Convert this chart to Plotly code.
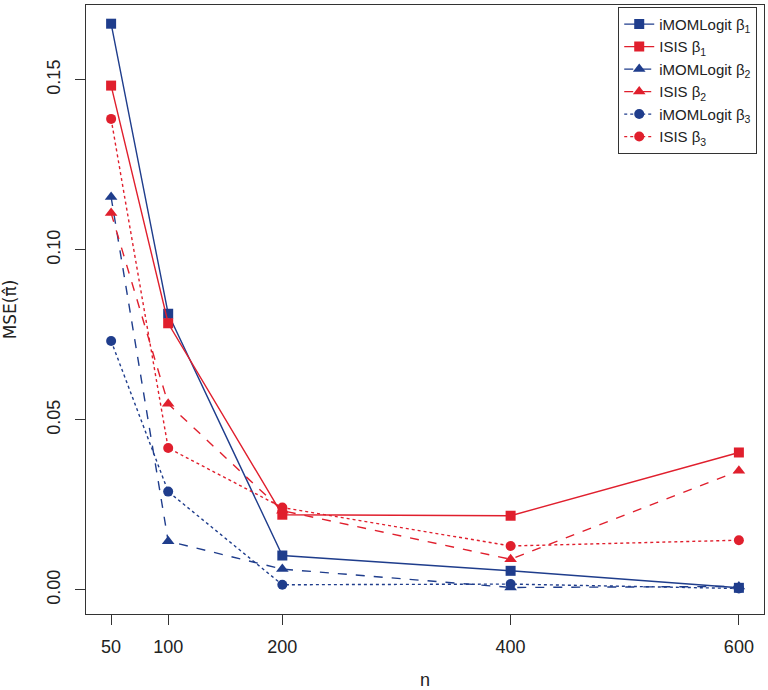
import plotly.graph_objects as go

n_values = [50, 100, 200, 400, 600]
tick_labels = ["50", "100", "200", "400", "600"]

imom_b1 = [0.1665, 0.0812, 0.0101, 0.0056, 0.0006]
isis_b1 = [0.1483, 0.0784, 0.0221, 0.0218, 0.0404]
imom_b2 = [0.1155, 0.0143, 0.0061, 0.0007, 0.0010]
isis_b2 = [0.1108, 0.0547, 0.0233, 0.0090, 0.0350]
imom_b3 = [0.0732, 0.0289, 0.0015, 0.0017, 0.0004]
isis_b3 = [0.1385, 0.0417, 0.0242, 0.0129, 0.0146]

BLUE = "#1f3d8c"
RED = "#e01f2d"

series = [
    ("iMOMLogit β<sub>1</sub>", imom_b1, BLUE, "solid", "square", 10),
    ("ISIS β<sub>1</sub>", isis_b1, RED, "solid", "square", 10),
    ("iMOMLogit β<sub>2</sub>", imom_b2, BLUE, "dash", "triangle-up", 11),
    ("ISIS β<sub>2</sub>", isis_b2, RED, "dash", "triangle-up", 11),
    ("iMOMLogit β<sub>3</sub>", imom_b3, BLUE, "dot", "circle", 10),
    ("ISIS β<sub>3</sub>", isis_b3, RED, "dot", "circle", 10),
]

fig = go.Figure()
for name, vals, col, dash, sym, size in series:
    fig.add_trace(go.Scatter(
        x=n_values, y=vals, name=name, mode="lines+markers",
        line=dict(color=col, width=1.4, dash=dash),
        marker=dict(color=col, symbol=sym, size=size),
    ))

FAM = "Liberation Sans, Arial, sans-serif"
tick_font = dict(family=FAM, size=18, color="#222")
title_font = dict(family=FAM, size=18, color="#222")

fig.update_layout(
    width=768, height=690,
    margin=dict(l=86, r=4, t=5, b=76),
    paper_bgcolor="white", plot_bgcolor="white",
    font=dict(family=FAM, size=15, color="#222"),
    showlegend=True,
    legend=dict(
        x=0.99, y=0.997, xanchor="right", yanchor="top",
        bgcolor="white", bordercolor="#333", borderwidth=1,
        font=dict(family=FAM, size=15, color="#222"),
        tracegroupgap=0, itemwidth=30,
    ),
    xaxis=dict(
        range=[28, 622], tickvals=n_values, ticktext=tick_labels,
        showgrid=False, zeroline=False, showline=True, mirror=True,
        linecolor="#333", linewidth=1, ticks="outside", ticklen=10,
        tickcolor="#333", tickfont=tick_font, automargin=False,
        ticklabelstandoff=6,
        title=dict(text="n", standoff=20, font=title_font),
    ),
    yaxis=dict(
        range=[-0.0071, 0.172], tickvals=[0.0, 0.05, 0.10, 0.15],
        ticktext=["0.00", "0.05", "0.10", "0.15"], tickangle=-90,
        showgrid=False, zeroline=False, showline=True, mirror=True,
        linecolor="#333", linewidth=1, ticks="outside", ticklen=10,
        tickcolor="#333", tickfont=tick_font, automargin=False,
        ticklabelstandoff=8,
        title=dict(text="MSE(π\u0302)", standoff=22,
                   font=dict(family="DejaVu Sans, sans-serif", size=17, color="#222")),
    ),
)

fig.write_html(
    "out.html",
    config={"displayModeBar": False},
    post_script="document.body.style.margin='0';document.body.style.padding='0';",
)
